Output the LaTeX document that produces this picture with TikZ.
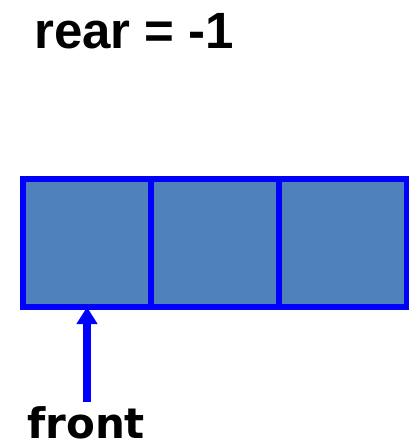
\documentclass[tikz,border=0pt]{standalone}
\usepackage{fontspec}
\setmainfont{Liberation Sans}
\newfontfamily\frontfont{DejaVu Sans}
\definecolor{cellfill}{HTML}{4F81BD}
\usetikzlibrary{arrows.meta}
\begin{document}
\begin{tikzpicture}[x=1pt,y=-1pt,
  cellbox/.style={draw=blue, fill=cellfill, line width=6pt, minimum width=128pt, minimum height=128pt, inner sep=0pt, outer sep=0pt},
  lbl/.style={inner sep=0pt, anchor=base west, text depth=0pt}]
\useasboundingbox (0,0) rectangle (409,448);
\node[cellbox] (c1) at (87,243) {};
\node[cellbox] (c2) at (215,243) {};
\node[cellbox] (c3) at (343,243) {};
\node[lbl, font=\fontsize{51}{51}\selectfont\bfseries] (rear) at (34,48) {rear = -1};
\node[lbl, font=\frontfont\fontsize{42}{42}\selectfont\bfseries] (front) at (27,438) {front};
\coordinate (tail) at (87,402);
\draw[blue, line width=8pt, -{Triangle[length=17pt,width=20pt]}] (tail) -- (c1.south);
\end{tikzpicture}
\end{document}
